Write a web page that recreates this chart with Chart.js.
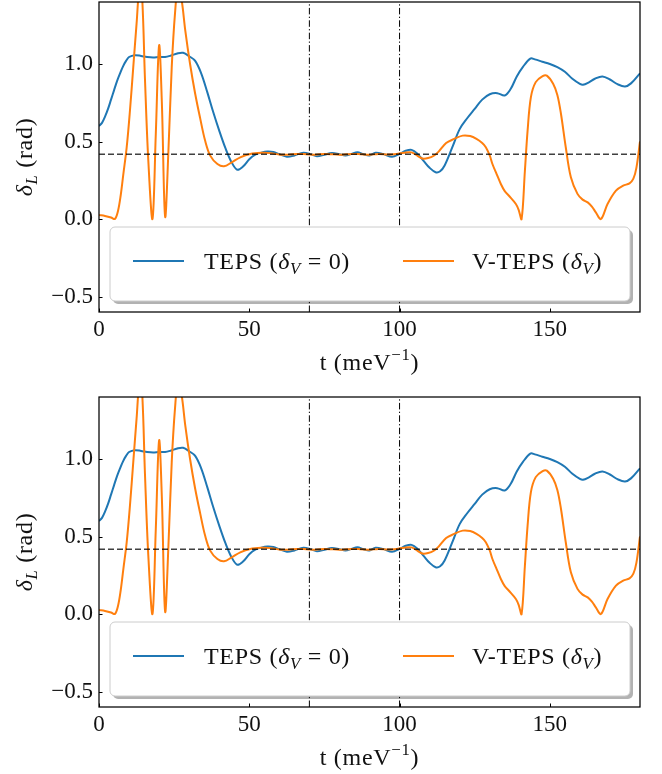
<!DOCTYPE html>
<html>
<head>
<meta charset="utf-8">
<script src="https://cdn.jsdelivr.net/npm/chart.js@4"></script>
<style>
  body { margin: 0; background: #fff; }
  #wrap { position: relative; width: 662px; height: 774px; }
  canvas { position: absolute; left: 0; }
</style>
</head>
<body>
<div id="wrap">
  <canvas id="top" width="662" height="379" style="top:0"></canvas>
  <canvas id="bottom" width="662" height="379" style="top:395px"></canvas>
</div>
<script>
// TEPS (delta_V = 0)
const tepsT = [0, 1, 2, 3, 4, 5, 6, 7, 8, 9, 10, 12, 14, 16, 18, 20, 22, 24, 26, 28, 30, 32, 34, 36, 38,
  40, 42, 44, 46, 48, 50, 52, 54, 56, 58, 60, 62.5, 65, 68, 70.5, 72.5, 75, 77.5, 80, 82, 84, 86, 88,
  90, 92, 94.5, 97.5, 100, 102, 104, 106, 108, 110, 112, 113.5, 115, 117.5, 120, 122.5, 125, 127.5,
  130, 132.5, 135, 137, 139, 141, 143.5, 145, 147.5, 150, 152.5, 155, 157.5, 160, 161, 163, 165,
  167.5, 170, 172.5, 175, 177, 180];
const tepsDelta = [0.60, 0.62, 0.66, 0.71, 0.77, 0.83, 0.89, 0.94, 0.985, 1.02, 1.045, 1.057, 1.052,
  1.045, 1.042, 1.045, 1.045, 1.055, 1.068, 1.072, 1.05, 1.02, 0.94, 0.82, 0.69, 0.57, 0.46, 0.37,
  0.318, 0.34, 0.385, 0.415, 0.428, 0.435, 0.432, 0.418, 0.402, 0.41, 0.428, 0.418, 0.405, 0.415,
  0.426, 0.418, 0.41, 0.42, 0.43, 0.418, 0.41, 0.427, 0.42, 0.402, 0.42, 0.44, 0.446, 0.42, 0.375,
  0.33, 0.302, 0.308, 0.345, 0.46, 0.58, 0.65, 0.71, 0.77, 0.805, 0.812, 0.797, 0.84, 0.92, 0.98,
  1.035, 1.03, 1.015, 1.0, 0.98, 0.95, 0.905, 0.872, 0.866, 0.882, 0.905, 0.92, 0.9, 0.87, 0.855,
  0.875, 0.94];

// V-TEPS (delta_V)
const vtepsT = [0, 2, 4, 5.3, 6.3, 7.2, 8.1, 9.2, 10.3, 11.4, 12.5, 13.5, 14.3, 15.3, 16.4, 17.8,
  18.9, 20.0, 20.9, 22.0, 23.1, 24.2, 25.3, 26.4, 27.6, 28.7, 30.3, 32.0, 33.7, 35.3, 37.0, 39.4,
  41.6, 44.2, 47.0, 50.3, 54.2, 57.2, 60.3, 63, 66, 69, 72, 75, 78, 81, 84, 87, 90, 93, 96, 99,
  101.5, 104, 106, 107.6, 109.5, 111.4, 113, 115.5, 118, 121, 123.5, 125.6, 127.5, 128.7, 130,
  130.9, 132.3, 133.7, 135, 136.4, 138.7, 139.6, 140.6, 141.7, 142.6, 143.7, 145.3, 147.6, 149.0,
  151.1, 152.5, 153.7, 155.3, 157.0, 159.2, 160.9, 162.6, 164, 165.3, 167, 169.2, 172, 174.4,
  176.5, 177.8, 178.8, 180];
const vtepsDelta = [0.026, 0.02, 0.01, 0.0, 0.05, 0.15, 0.29, 0.46, 0.70, 0.98, 1.26, 1.50, 1.45,
  0.90, 0.38, 0.0, 0.55, 1.12, 0.76, 0.015, 0.44, 0.98, 1.33, 1.52, 1.40, 1.217, 1.0, 0.808, 0.646,
  0.506, 0.409, 0.355, 0.34, 0.366, 0.398, 0.42, 0.427, 0.425, 0.415, 0.415, 0.42, 0.418, 0.415,
  0.42, 0.417, 0.414, 0.42, 0.418, 0.414, 0.42, 0.416, 0.42, 0.428, 0.43, 0.408, 0.39, 0.393, 0.408,
  0.435, 0.49, 0.515, 0.538, 0.535, 0.517, 0.49, 0.463, 0.41, 0.355, 0.29, 0.226, 0.18, 0.15, 0.097,
  0.06, 0.0, 0.31, 0.57, 0.786, 0.883, 0.922, 0.925, 0.872, 0.8, 0.679, 0.463, 0.269, 0.162, 0.125,
  0.107, 0.08, 0.043, 0.0, 0.097, 0.183, 0.215, 0.23, 0.26, 0.33, 0.5];

const refDelta = 0.417;      // dashed horizontal reference
const markerT = [70, 100];   // dash-dot vertical markers
const xTicks = [0, 50, 100, 150];
const yTicks = [-0.5, 0.0, 0.5, 1.0];
const xRange = [0, 180];
const yRange = [-0.6, 1.4];

const FONT = '"Liberation Serif", "Times New Roman", serif';
const BLUE = '#1f77b4';
const ORANGE = '#ff7f0e';
const TXT = 24;

const toPoints = (ts, vs) => ts.map((t, i) => ({ x: t, y: vs[i] }));

// draw text made of pieces, some italic / sub / superscript
const drawRich = (ctx, parts, x, y, size, align) => {
  const fontFor = (p) => {
    const s = p.sub || p.sup ? size * 0.7 : size;
    return `${p.it ? 'italic ' : ''}${s}px ${FONT}`;
  };
  ctx.letterSpacing = '0.7px';
  let total = 0;
  parts.forEach((p) => {
    ctx.font = fontFor(p);
    p.w = ctx.measureText(p.t).width;
    total += p.w;
  });
  let cx = align === 'center' ? x - total / 2 : x;
  ctx.textAlign = 'left';
  ctx.textBaseline = 'alphabetic';
  parts.forEach((p) => {
    ctx.font = fontFor(p);
    let dy = 0;
    if (p.sub) dy = size * 0.22;
    if (p.sup) dy = -size * 0.4;
    ctx.fillText(p.t, cx, y + dy);
    cx += p.w;
  });
  ctx.letterSpacing = '0px';
};

const legendItems = [
  { color: BLUE, parts: [{ t: 'TEPS (' }, { t: 'δ', it: true }, { t: 'V', it: true, sub: true }, { t: ' = 0)' }], x0: 133, tx: 204 },
  { color: ORANGE, parts: [{ t: 'V-TEPS (' }, { t: 'δ', it: true }, { t: 'V', it: true, sub: true }, { t: ')' }], x0: 403, tx: 472 },
];

const framePlugin = {
  id: 'frame',
  afterDatasetsDraw(chart) {
    const { ctx, chartArea: a, scales } = chart;
    ctx.save();
    // inward tick marks
    ctx.strokeStyle = '#000';
    ctx.lineWidth = 1;
    ctx.beginPath();
    xTicks.forEach((v) => {
      const px = Math.round(scales.x.getPixelForValue(v)) + 0.5;
      ctx.moveTo(px, a.bottom);
      ctx.lineTo(px, a.bottom - 3.5);
    });
    yTicks.forEach((v) => {
      const py = Math.round(scales.y.getPixelForValue(v)) + 0.5;
      ctx.moveTo(a.left, py);
      ctx.lineTo(a.left + 3.5, py);
    });
    ctx.stroke();
    // box
    ctx.lineWidth = 1.25;
    ctx.strokeRect(a.left, a.top, a.right - a.left, a.bottom - a.top);

    // legend
    const lx = 110, ly = 227, lw = 520, lh = 74;
    ctx.fillStyle = 'rgba(0,0,0,0.3)';
    ctx.beginPath();
    ctx.roundRect(lx + 3, ly + 3, lw, lh, 5);
    ctx.fill();
    ctx.fillStyle = '#fff';
    ctx.strokeStyle = '#cccccc';
    ctx.lineWidth = 1;
    ctx.beginPath();
    ctx.roundRect(lx, ly, lw, lh, 5);
    ctx.fill();
    ctx.stroke();
    legendItems.forEach((it) => {
      ctx.strokeStyle = it.color;
      ctx.lineWidth = 2;
      ctx.beginPath();
      ctx.moveTo(it.x0, 261);
      ctx.lineTo(it.x0 + 51, 261);
      ctx.stroke();
      ctx.fillStyle = '#111';
      drawRich(ctx, it.parts, it.tx, 269, TXT, 'left');
    });

    // axis titles
    ctx.fillStyle = '#111';
    drawRich(ctx, [{ t: 't (meV' }, { t: '\u22121', sup: true }, { t: ')' }],
      (a.left + a.right) / 2, 370, TXT, 'center');
    ctx.translate(32, (a.top + a.bottom) / 2);
    ctx.rotate(-Math.PI / 2);
    drawRich(ctx, [{ t: 'δ', it: true }, { t: 'L', it: true, sub: true }, { t: ' (rad)' }], 0, 0, TXT, 'center');
    ctx.restore();
  },
};

const makeChart = (id) => {
  new Chart(document.getElementById(id), {
    type: 'line',
    data: {
      datasets: [
        {
          data: [{ x: xRange[0], y: refDelta }, { x: xRange[1], y: refDelta }],
          borderColor: 'rgba(0,0,0,0.75)', borderWidth: 1.5, borderDash: [6, 3],
        },
        ...markerT.map((t) => ({
          data: [{ x: t, y: yRange[0] }, { x: t, y: yRange[1] }],
          borderColor: '#000', borderWidth: 1, borderDash: [6.5, 2.3, 1.3, 2.3],
        })),
        { data: toPoints(vtepsT, vtepsDelta), borderColor: ORANGE, borderWidth: 2, tension: 0.35 },
        { data: toPoints(tepsT, tepsDelta), borderColor: BLUE, borderWidth: 2, tension: 0.35 },
      ],
    },
    options: {
      responsive: false,
      animation: false,
      devicePixelRatio: 1,
      parsing: false,
      layout: { padding: { top: 2, right: 22, left: 0, bottom: 0 } },
      elements: { point: { radius: 0 } },
      plugins: { legend: { display: false }, tooltip: { enabled: false } },
      scales: {
        x: {
          type: 'linear',
          min: xRange[0],
          max: xRange[1],
          grid: { display: false, drawTicks: false },
          border: { display: false },
          afterBuildTicks: (s) => { s.ticks = xTicks.map((v) => ({ value: v })); },
          afterFit: (s) => { s.height = 67; s.paddingLeft = 0; s.paddingRight = 0; },
          ticks: { color: '#111', padding: 4, font: { family: FONT, size: 23 }, maxRotation: 0 },
        },
        y: {
          type: 'linear',
          min: yRange[0],
          max: yRange[1],
          grid: { display: false, drawTicks: false },
          border: { display: false },
          afterBuildTicks: (s) => { s.ticks = yTicks.map((v) => ({ value: v })); },
          afterFit: (s) => { s.width = 99; s.paddingTop = 0; s.paddingBottom = 0; },
          ticks: {
            color: '#111', padding: 6, font: { family: FONT, size: 23 },
            callback: (v) => v.toFixed(1).replace('-', '\u2212'),
          },
        },
      },
    },
    plugins: [framePlugin],
  });
};

makeChart('top');
makeChart('bottom');
</script>
</body>
</html>
